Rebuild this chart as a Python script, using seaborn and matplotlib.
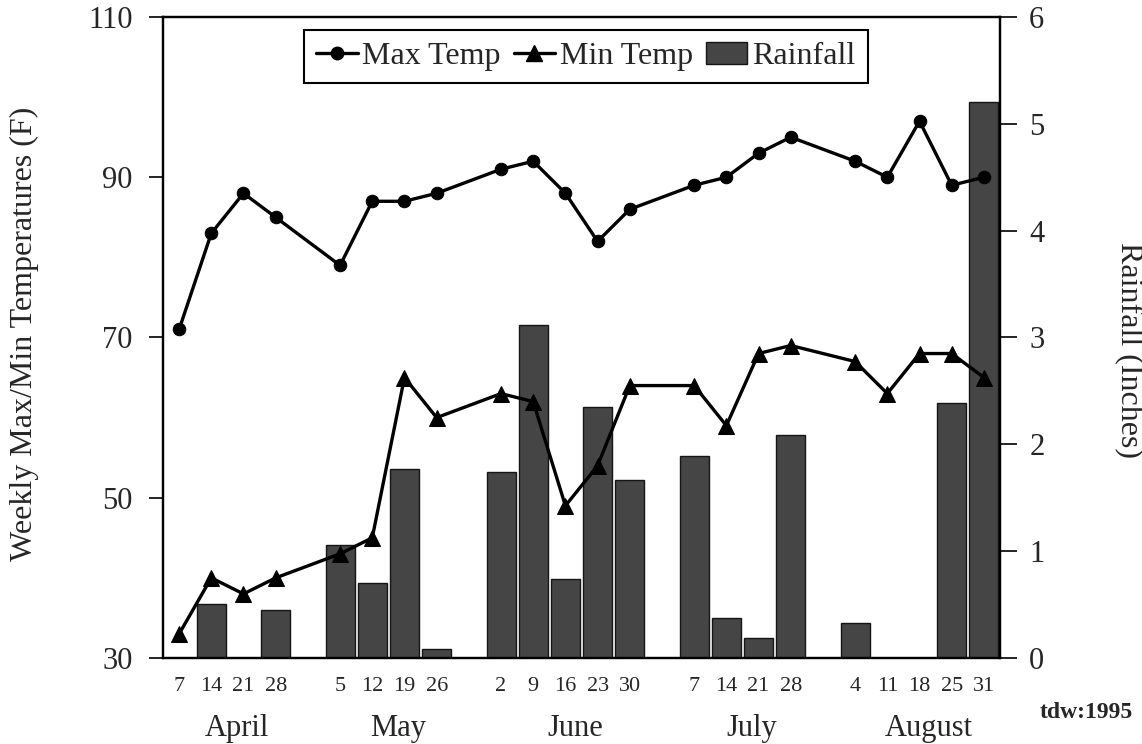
import numpy as np
import pandas as pd
import matplotlib
matplotlib.use('Agg')
import matplotlib.pyplot as plt
import matplotlib.transforms as mtransforms
from matplotlib.lines import Line2D
from matplotlib.patches import Patch
import seaborn as sns

# ---------------- data ----------------
months = ['April', 'May', 'June', 'July', 'August']
month_days = [
    [7, 14, 21, 28],
    [5, 12, 19, 26],
    [2, 9, 16, 23, 30],
    [7, 14, 21, 28],
    [4, 11, 18, 25, 31],
]
max_temp = [71, 83, 88, 85,
            79, 87, 87, 88,
            91, 92, 88, 82, 86,
            89, 90, 93, 95,
            92, 90, 97, 89, 90]
min_temp = [33, 40, 38, 40,
            43, 45, 65, 60,
            63, 62, 49, 54, 64,
            64, 59, 68, 69,
            67, 63, 68, 68, 65]
rainfall = [0.0, 0.51, 0.0, 0.45,
            1.06, 0.70, 1.77, 0.08,
            1.74, 3.12, 0.74, 2.35, 1.67,
            1.89, 0.37, 0.19, 2.09,
            0.33, 0.0, 0.0, 2.39, 5.20]
temp_ticks = [30, 50, 70, 90, 110]
rain_ticks = [0, 1, 2, 3, 4, 5, 6]

# ---------------- style ----------------
sns.set_theme(style='white')
plt.rcParams['font.family'] = ['Liberation Serif', 'DejaVu Serif']

# category slots: one empty slot between months
pos, month_centers, day_labels = [], [], []
slot = 0
for days in month_days:
    start = slot
    for d in days:
        pos.append(slot)
        day_labels.append(str(d))
        slot += 1
    month_centers.append((start + slot - 1) / 2)
    slot += 1
n_slots = slot - 1

df = pd.DataFrame({'pos': pos, 'max': max_temp, 'min': min_temp, 'rain': rainfall})

W, H = 1142, 744
fig = plt.figure(figsize=(W / 100, H / 100), dpi=100)
ax = fig.add_axes([163 / W, 1 - 658 / H, 837 / W, 641 / H])
ax2 = ax.twinx()

bar_color = '#454545'
sns.barplot(data=df, x='pos', y='rain', native_scale=True, width=0.9,
            color=bar_color, saturation=1, edgecolor='#151515', linewidth=1.0,
            errorbar=None, ax=ax2)

sns.lineplot(data=df, x='pos', y='max', color='black', lw=2.4, marker='o',
             markersize=9, markeredgecolor='black', ax=ax)
sns.lineplot(data=df, x='pos', y='min', color='black', lw=2.4, marker='^',
             markersize=12, markeredgecolor='black', ax=ax)

ax.set_zorder(ax2.get_zorder() + 1)
ax.patch.set_visible(False)

ax.set_xlim(-0.5, n_slots - 0.5)
ax.set_ylim(temp_ticks[0], temp_ticks[-1])
ax.set_yticks(temp_ticks)
ax2.set_ylim(rain_ticks[0], rain_ticks[-1])
ax2.set_yticks(rain_ticks)

ax.set_xticks(pos)
ax.set_xticklabels(day_labels, fontsize=16)
ax.tick_params(axis='x', length=0, pad=14)
ax.tick_params(axis='y', direction='out', length=10, width=1.2, labelsize=22,
               pad=12, left=True, color='black')
ax2.tick_params(axis='y', direction='out', length=12, width=1.2, labelsize=22,
                pad=9, right=True, color='black')
ax.set_xlabel('')
ax2.set_xlabel('')

for a in (ax, ax2):
    for s in a.spines.values():
        s.set_color('black')
        s.set_linewidth(1.6)

ax.set_ylabel('Weekly Max/Min Temperatures (F)', fontsize=23, va='center')
ax.yaxis.set_label_coords(-0.166, 0.505)
ax2.set_ylabel('Rainfall (Inches)', fontsize=23, rotation=-90, va='center')
ax2.yaxis.set_label_coords(1.154, 0.48)

trans = mtransforms.blended_transform_factory(ax.transData, ax.transAxes)
for m, c in zip(months, month_centers):
    ax.text(c + 0.3, -0.11, m, transform=trans, ha='center', va='center', fontsize=22)

handles = [
    Line2D([], [], color='black', lw=2.4, marker='o', markersize=9),
    Line2D([], [], color='black', lw=2.4, marker='^', markersize=12),
    Patch(facecolor=bar_color, edgecolor='#151515'),
]
leg = ax.legend(handles, ['Max Temp', 'Min Temp', 'Rainfall'], loc='upper center',
                bbox_to_anchor=(0.505, 0.98), ncol=3, fontsize=23, frameon=True,
                fancybox=False, edgecolor='black', framealpha=1, handlelength=1.3,
                handletextpad=0.15, columnspacing=0.4, borderpad=0.38,
                borderaxespad=0)
leg.get_frame().set_linewidth(1.5)

fig.text(1086 / W, 1 - 713 / H, 'tdw:1995', fontweight='bold', fontsize=17,
         ha='center', va='center')

fig.savefig('out.png', dpi=100)
